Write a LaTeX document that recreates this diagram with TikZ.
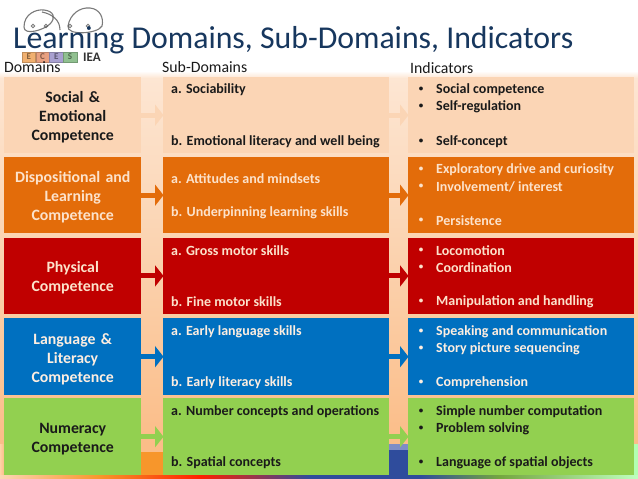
\documentclass[tikz,border=0pt]{standalone}
\usepackage{fontspec}
\setmainfont{Carlito}
\usetikzlibrary{arrows.meta}
\definecolor{cpeach}{HTML}{FBD5B5}
\definecolor{corange}{HTML}{E36C0A}
\definecolor{cred}{HTML}{C00000}
\definecolor{cblue}{HTML}{0070C0}
\definecolor{cgreen}{HTML}{92D050}
\definecolor{cgutA}{HTML}{FDE6D3}
\definecolor{cgutB}{HTML}{FBD3B0}
\definecolor{cgutC}{HTML}{FBBD88}
\definecolor{ctitle}{HTML}{17375E}
\definecolor{ctxt}{HTML}{1A1A1A}
\definecolor{gorange}{HTML}{F7962B}
\definecolor{gblue}{HTML}{2F4C9C}
\definecolor{gblueb}{HTML}{7F8DC6}
\definecolor{lE}{HTML}{F0B070}
\definecolor{lC}{HTML}{E8A080}
\definecolor{lF}{HTML}{A8A0D0}
\definecolor{lS}{HTML}{90C090}
\newcommand{\domdrop}{\rule{0pt}{15.5pt}}
\begin{document}
\begin{tikzpicture}[x=1pt,y=-1pt,
  box/.style={fill=#1,draw=none,inner sep=0pt,anchor=north west},
  dombox/.style={box=#1,minimum width=137pt,font=\bfseries\fontsize{15.8}{19}\selectfont,align=center,text width=133pt},
  sub/.style={box=#1,minimum width=226pt},
  ind/.style={box=#1,minimum width=226pt},
  txt/.style={font=\bfseries\fontsize{14}{15}\selectfont,text=#1,anchor=west,inner sep=0pt,yshift=-.8pt},
  bul/.style={font=\bfseries\fontsize{9}{10}\selectfont,text=#1,inner sep=0pt,yshift=-.5pt},
  hd/.style={font=\fontsize{15.8}{16}\selectfont,anchor=west,inner sep=0pt,text=ctxt},
  arr/.style={line width=5pt,-{Triangle[length=8.5pt,width=21pt]},draw=#1,shorten >=-0.5pt},
  lg/.style={draw=gray!70!black,line width=1.1pt,opacity=.8},
  logobox/.style={fill=#1,draw=#1!80!black,line width=.4pt,inner sep=0pt,minimum width=13.5pt,minimum height=10.5pt,font=\bfseries\fontsize{9}{10}\selectfont,text=#1!55!black}]
\useasboundingbox (0,0) rectangle (638,479);
\fill[white] (0,0) rectangle (638,479);
\fill[top color=white,bottom color=cgutA] (0,71) rectangle (638,78);
\fill[top color=cgutA,bottom color=cgutB] (0,78) rectangle (638,250);
\fill[top color=cgutB,bottom color=cgutC] (0,250) rectangle (638,444);
\fill[left color=orange!35!white,right color=cgutC] (0,444) rectangle (4,475);
\fill[green!25!white] (4,444) rectangle (634,475);
\fill[green!30!white] (634,444) rectangle (638,475);
\fill[cgutC] (141,444) rectangle (163,452);
\fill[gorange] (141,452) rectangle (163,475);
\fill[gblueb] (389,444) rectangle (408,450);
\fill[gblue] (389,450) rectangle (408,475);
\fill[left color=cpeach,right color=gorange] (0,475) rectangle (100,479);
\fill[left color=gorange,right color=red!75!orange] (100,475) rectangle (200,479);
\fill[left color=red!75!orange,right color=gblue] (200,475) rectangle (310,479);
\fill[gblue] (310,475) rectangle (420,479);
\fill[left color=gblue,right color=cgreen!80!black] (420,475) rectangle (500,479);
\fill[left color=cgreen!80!black,right color=green!25!white] (500,475) rectangle (638,479);
% logo
\draw[lg] (24,27) .. controls (24,14) and (36,9) .. (44,10) .. controls (54,11) and (56,18) .. (50,24) .. controls (44,30) and (24,36) .. (24,27);
\draw[lg] (68,26) .. controls (70,14) and (80,7) .. (90,8) .. controls (100,9) and (104,18) .. (102,26) .. controls (98,34) and (66,36) .. (68,26);
\draw[lg] (42,12) .. controls (52,14) and (60,20) .. (60,30);
\draw[lg,line width=.8pt] (33,26) circle (1.8pt) (46,26) circle (1.8pt) (70,26) circle (1.8pt) (88,26) circle (1.8pt);
\node[logobox=lE] (le) at (28.8,57) {E};
\node[logobox=lC] (lc) at (42.5,57) {C};
\node[logobox=lF] (lf) at (56.2,57) {E};
\node[logobox=lS] (ls) at (70,57) {S};
\node[font=\bfseries\fontsize{13}{13}\selectfont,text=black!80,inner sep=0pt] (liea) at (92,57.5) {IEA};
% title
\node[anchor=base west,inner sep=0pt,text=ctitle,font=\fontsize{31.8}{34}\selectfont] (title) at (13,48) {Learning Domains, Sub-Domains, Indicators};
% headers
\node[hd] (h1) at (4,67.5) {Domains};
\node[hd] (h2) at (162,67.5) {Sub-Domains};
\node[hd] (h3) at (410,68.5) {Indicators};
% boxes
\node[dombox=cpeach,minimum height=76pt,text=ctxt] (d1) at (4,77) {\domdrop Social \&\\Emotional\\Competence};
\node[dombox=corange,minimum height=76pt,text=cpeach!70!white] (d2) at (4,157) {\domdrop Dispositional and\\Learning\\Competence};
\node[dombox=cred,minimum height=76.5pt,text=cpeach!70!white] (d3) at (4,237.5) {\domdrop Physical\\Competence};
\node[dombox=cblue,minimum height=77pt,text=cpeach!40!white] (d4) at (4,318) {\domdrop Language \&\\Literacy\\Competence};
\node[dombox=cgreen,minimum height=77pt,text=ctxt] (d5) at (4,398) {\domdrop Numeracy\\Competence};
\node[sub=cpeach,minimum height=76pt] (s1) at (163,77) {};
\node[sub=corange,minimum height=76pt] (s2) at (163,157) {};
\node[sub=cred,minimum height=76.5pt] (s3) at (163,237.5) {};
\node[sub=cblue,minimum height=77pt] (s4) at (163,318) {};
\node[sub=cgreen,minimum height=77pt] (s5) at (163,398) {};
\node[ind=cpeach,minimum height=76pt] (i1) at (408,77) {};
\node[ind=corange,minimum height=76pt] (i2) at (408,157) {};
\node[ind=cred,minimum height=76.5pt] (i3) at (408,237.5) {};
\node[ind=cblue,minimum height=77pt] (i4) at (408,318) {};
\node[ind=cgreen,minimum height=77pt] (i5) at (408,398) {};
% arrows
\draw[arr=cpeach] (d1) -- (s1);
\draw[arr=cpeach] (s1) -- (i1);
\draw[arr=corange] (d2) -- (s2);
\draw[arr=corange] (s2) -- (i2);
\draw[arr=cred] (d3) -- (s3);
\draw[arr=cred] (s3) -- (i3);
\draw[arr=cblue] (d4) -- (s4);
\draw[arr=cblue] (s4) -- (i4);
\draw[arr=cgreen] (d5) -- (s5);
\draw[arr=cgreen] (s5) -- (i5);
% sub-domain text
\foreach \n/\y/\t/\c in {
 sa1/89/a. Sociability/ctxt, sb1/141/b. Emotional literacy and well being/ctxt,
 sa2/178/a. Attitudes and mindsets/cpeach!70!white, sb2/212/b. Underpinning learning skills/cpeach!70!white,
 sa3/250/a. Gross motor skills/cpeach!70!white, sb3/301/b. Fine motor skills/cpeach!70!white,
 sa4/331/a. Early language skills/cpeach!40!white, sb4/382/b. Early literacy skills/cpeach!40!white,
 sa5/411/a. Number concepts and operations/ctxt, sb5/462/b. Spatial concepts/ctxt}
 {\node[txt=\c] (\n) at (171,\y) {\t};}
% indicators
\foreach \n/\y/\t/\c in {
 ia1/89/Social competence/ctxt, ib1/106/Self-regulation/ctxt, ic1/141/Self-concept/ctxt,
 ia2/169/Exploratory drive and curiosity/cpeach!70!white, ib2/186/{Involvement/ interest}/cpeach!70!white, ic2/220/Persistence/cpeach!70!white,
 ia3/250/Locomotion/cpeach!70!white, ib3/267/Coordination/cpeach!70!white, ic3/301/Manipulation and handling/cpeach!70!white,
 ia4/331/Speaking and communication/cpeach!40!white, ib4/348/Story picture sequencing/cpeach!40!white, ic4/382/Comprehension/cpeach!40!white,
 ia5/411/Simple number computation/ctxt, ib5/428/Problem solving/ctxt, ic5/462/Language of spatial objects/ctxt}
 {\node[txt=\c] (\n) at (436,\y) {\t};
  \node[bul=\c] (\n b) at (421,\y) {•};}
\end{tikzpicture}
\end{document}
